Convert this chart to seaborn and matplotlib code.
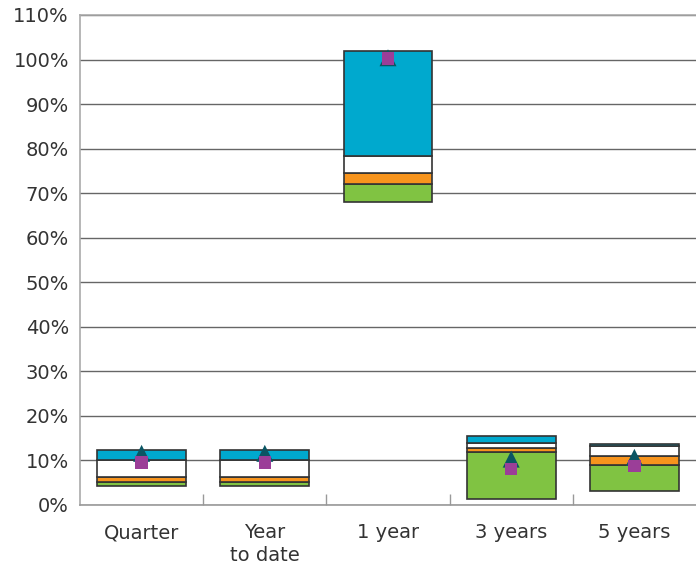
import numpy as np
import pandas as pd
import seaborn as sns
import matplotlib.pyplot as plt
import matplotlib.transforms as mtransforms
from matplotlib.ticker import FixedLocator

categories = ["Quarter", "Year\nto date", "1 year", "3 years", "5 years"]
p5 = [4.3, 4.3, 68.0, 1.3, 3.2]
p25 = [5.2, 5.2, 72.1, 11.9, 8.9]
p50 = [6.2, 6.2, 74.5, 12.7, 11.0]
p75 = [10.0, 10.0, 78.3, 14.0, 13.3]
p95 = [12.3, 12.3, 102.0, 15.5, 13.7]
triangle_vals = [11.6, 11.6, 100.4, 10.3, 10.7]
square_vals = [9.5, 9.5, 100.2, 8.1, 8.8]
y_ticks = list(range(0, 111, 10))
y_labels = [f"{v}%" for v in y_ticks]

sns.set_theme(style="white")
plt.rcParams['font.family'] = ['DejaVu Sans']

fig = plt.figure(figsize=(6.96, 5.71), dpi=100)
ax = fig.add_axes([80 / 696, 66 / 571, 616 / 696, 490 / 571])

bands = [
    (p5, p25, "#80c342"),
    (p25, p50, "#f7941d"),
    (p50, p75, "#ffffff"),
    (p75, p95, "#00a9ce"),
]
for lo, hi, col in bands:
    df = pd.DataFrame({"cat": categories, "h": np.array(hi) - np.array(lo)})
    sns.barplot(data=df, x="cat", y="h", bottom=lo, color=col, width=0.72,
                edgecolor="#333333", linewidth=1.2, saturation=1, ax=ax, zorder=3)

mk = pd.DataFrame({"cat": categories, "tri": triangle_vals, "sq": square_vals})
sns.scatterplot(data=mk, x="cat", y="tri", marker="^", s=150, color="#0b5563",
                edgecolor="none", ax=ax, zorder=4)
sns.scatterplot(data=mk, x="cat", y="sq", marker="s", s=80, color="#9b3e98",
                edgecolor="none", ax=ax, zorder=5)

ax.set_xlim(-0.5, 4.5)
ax.set_ylim(0, 110)
ax.set_yticks(y_ticks)
ax.set_yticklabels(y_labels, fontsize=14, color="#333333")
ax.set_xticks(range(len(categories)))
ax.set_xticklabels(categories, fontsize=14, color="#333333", linespacing=1.25)
ax.set_xlabel("")
ax.set_ylabel("")
ax.grid(axis="y", color="#666666", linewidth=1, zorder=0)
ax.set_axisbelow(True)

# labels sit a little below their grid lines in the original
shift = mtransforms.ScaledTranslation(0, -3 / 72, fig.dpi_scale_trans)
for lab in ax.get_yticklabels():
    lab.set_transform(lab.get_transform() + shift)

ax.xaxis.set_minor_locator(FixedLocator([0.5, 1.5, 2.5, 3.5]))
ax.tick_params(axis="x", which="major", length=0, pad=13)
ax.tick_params(axis="x", which="minor", direction="in", length=8, width=1, color="#999999", bottom=True)
ax.tick_params(axis="y", length=0, pad=8)

for side in ["left", "top", "bottom"]:
    ax.spines[side].set_color("#aaaaaa")
    ax.spines[side].set_linewidth(1.2)
ax.spines["bottom"].set_color("#999999")
ax.spines["right"].set_visible(False)

fig.savefig("out.png", dpi=100)
